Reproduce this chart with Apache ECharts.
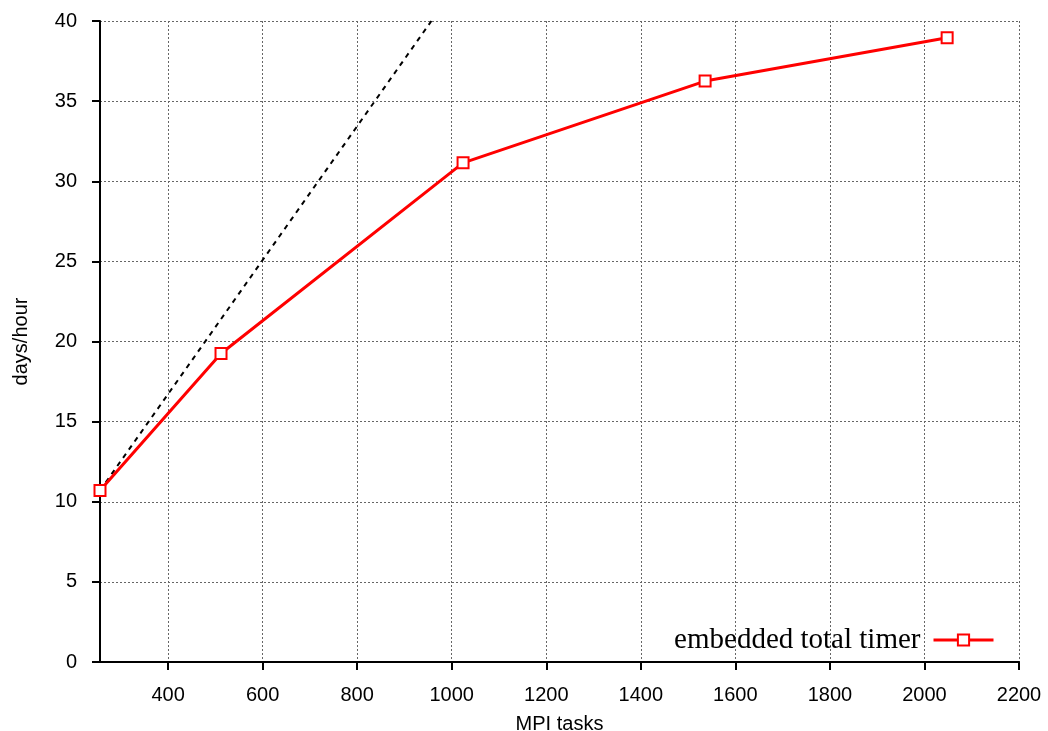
<!DOCTYPE html>
<html>
<head>
<meta charset="utf-8">
<script src="https://cdn.jsdelivr.net/npm/echarts@6/dist/echarts.min.js"></script>
<style>
  html, body { margin: 0; padding: 0; background: #fff; }
  #chart { width: 1048px; height: 731px; }
</style>
</head>
<body>
<div id="chart"></div>
<script>
// MPI task counts and measured throughput
const tasks = [256, 512, 1024, 1536, 2048];
const daysPerHour = [10.7, 19.25, 31.15, 36.25, 38.95];
// ideal (linear) scaling from the smallest run, up to the top of the axis
const idealTasks = [256, 957];
const idealDays = [10.7, 40];
// axis ticks
const xTicks = [400, 600, 800, 1000, 1200, 1400, 1600, 1800, 2000, 2200];
const seriesName = 'embedded total timer';

const chart = echarts.init(document.getElementById('chart'));
const grid = '#666';
const sans = 'Liberation Sans';
chart.setOption({
  animation: false,
  backgroundColor: '#fff',
  grid: { left: 100, right: 29, top: 21, bottom: 69, containLabel: false, outerBoundsMode: 'none' },
  legend: {
    data: [seriesName],
    right: 48,
    top: 620,
    align: 'right',
    itemWidth: 60,
    itemHeight: 14,
    lineStyle: { width: 3 },
    textStyle: { fontFamily: 'Liberation Serif', fontSize: 29, lineHeight: 30, color: '#000', padding: [0, 8, 0, 0] }
  },
  xAxis: {
    type: 'value',
    min: 256,
    max: 2200,
    name: 'MPI tasks',
    nameLocation: 'middle',
    nameGap: 52,
    nameTextStyle: { fontFamily: sans, fontSize: 20, color: '#000' },
    axisLine: { onZero: false, lineStyle: { color: '#000', width: 2 } },
    axisTick: { customValues: xTicks, length: 8, lineStyle: { color: '#000', width: 2 } },
    axisLabel: {
      customValues: xTicks,
      formatter: v => String(v),
      fontFamily: sans, fontSize: 20, color: '#000', margin: 23
    },
    splitLine: { show: true, lineStyle: { color: grid, type: [2, 2], width: 1 } }
  },
  yAxis: {
    type: 'value',
    min: 0,
    max: 40,
    interval: 5,
    name: 'days/hour',
    nameLocation: 'middle',
    nameGap: 69,
    nameTextStyle: { fontFamily: sans, fontSize: 20, color: '#000' },
    axisLine: { show: true, onZero: false, lineStyle: { color: '#000', width: 2 } },
    axisTick: { show: true, length: 8, lineStyle: { color: '#000', width: 2 } },
    axisLabel: { fontFamily: sans, fontSize: 20, color: '#000', margin: 23 },
    splitLine: { show: true, lineStyle: { color: grid, type: [2, 2], width: 1 } }
  },
  series: [
    {
      name: 'ideal',
      type: 'line',
      data: idealTasks.map((t, i) => [t, idealDays[i]]),
      showSymbol: false,
      symbol: 'none',
      lineStyle: { color: '#000', width: 2, type: [5, 5] },
      z: 2
    },
    {
      name: seriesName,
      type: 'line',
      data: tasks.map((t, i) => [t, daysPerHour[i]]),
      symbol: 'emptyRect',
      symbolSize: 11,
      clip: false,
      itemStyle: { color: '#ff0000', borderWidth: 2.5 },
      lineStyle: { color: '#ff0000', width: 3 },
      z: 3
    }
  ]
});
</script>
</body>
</html>
